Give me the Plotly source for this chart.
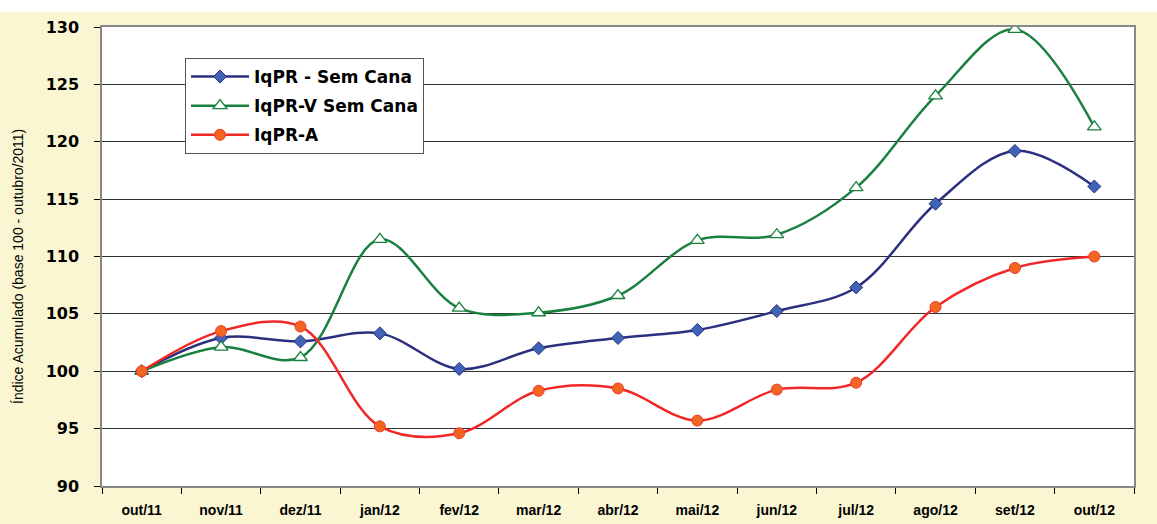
import plotly.graph_objects as go

months = ["out/11", "nov/11", "dez/11", "jan/12", "fev/12", "mar/12", "abr/12",
          "mai/12", "jun/12", "jul/12", "ago/12", "set/12", "out/12"]
iqpr_sem_cana = [100.0, 102.9, 102.6, 103.3, 100.2, 102.0, 102.9, 103.6, 105.25, 107.3, 114.6, 119.2, 116.1]
iqpr_v_sem_cana = [100.0, 102.1, 101.2, 111.5, 105.5, 105.1, 106.6, 111.4, 111.9, 116.0, 124.0, 129.8, 121.3]
iqpr_a = [100.0, 103.5, 103.9, 95.2, 94.6, 98.3, 98.5, 95.7, 98.4, 99.0, 105.6, 109.0, 110.0]

W, H = 1157, 524
L, R, T, B = 102, 23, 27, 38
ph = H - T - B
pw = W - L - R

fig = go.Figure()
fig.add_trace(go.Scatter(
    x=months, y=iqpr_sem_cana, name="IqPR - Sem Cana", mode="lines+markers", legendgroup="a",
    line=dict(color="#2B2F7F", width=2.5, shape="spline", smoothing=1.0),
    marker=dict(symbol="diamond", size=10, color="#3F63B5", line=dict(color="#2B2F7F", width=1))))
fig.add_trace(go.Scatter(
    x=months, y=iqpr_v_sem_cana, name="IqPR-V Sem Cana", mode="lines+markers", legendgroup="b",
    line=dict(color="#1A8040", width=2.5, shape="spline", smoothing=1.0),
    marker=dict(symbol="triangle-up", size=12, color="white", line=dict(color="#1A8040", width=1.3))))
fig.add_trace(go.Scatter(
    x=months, y=iqpr_a, name="IqPR-A", mode="lines+markers", legendgroup="c",
    line=dict(color="#F02828", width=2.5, shape="spline", smoothing=1.0),
    marker=dict(symbol="circle", size=11, color="#F26522", line=dict(color="#F03A2A", width=1))))

# white strip at top of the image
fig.add_shape(type="rect", xref="paper", yref="paper",
              x0=-L / pw, x1=(W - L) / pw, y0=1 + (T - 12) / ph, y1=1 + T / ph,
              fillcolor="white", line=dict(width=0), layer="above")

fig.add_annotation(text="Índice Acumulado (base 100 - outubro/2011)",
                   xref="paper", yref="paper", x=(18 - L) / pw, y=1 - (267 - T) / ph,
                   xanchor="center", yanchor="middle", textangle=-90, showarrow=False,
                   font=dict(size=14, family="Liberation Sans, Arial", color="black"))

fig.update_layout(
    width=W, height=H,
    margin=dict(l=L, r=R, t=T, b=B, autoexpand=False),
    paper_bgcolor="#FAF6D2",
    plot_bgcolor="white",
    font=dict(family="Liberation Sans, Arial, sans-serif", color="black"),
    showlegend=True,
    legend=dict(x=(185 - L) / pw, y=1 - (58 - T) / ph, xanchor="left", yanchor="top",
                bgcolor="white", bordercolor="#555555", borderwidth=1,
                font=dict(size=17, family="DejaVu Sans, Liberation Sans", weight="bold"),
                tracegroupgap=4, itemwidth=58),
    xaxis=dict(
        type="category", range=[-0.5, 12.5], tickson="boundaries", automargin=False,
        ticks="outside", ticklen=6, tickcolor="black", showgrid=False, ticklabelstandoff=10,
        showline=True, linecolor="#888888", linewidth=1.5, mirror=True,
        tickfont=dict(size=14, family="Liberation Sans, Arial", weight="bold"),
    ),
    yaxis=dict(
        range=[90, 130], dtick=5, ticks="outside", ticklen=6, tickcolor="black", automargin=False,
        showgrid=True, gridcolor="#303030", gridwidth=1.2, ticklabelstandoff=12,
        showline=True, linecolor="#888888", linewidth=1.5, mirror=True,
        tickfont=dict(size=16, family="DejaVu Sans, Liberation Sans", weight="bold"),
    ),
)

fig.write_html("out.html", config={"displayModeBar": False},
               post_script="document.body.style.margin='0';")
